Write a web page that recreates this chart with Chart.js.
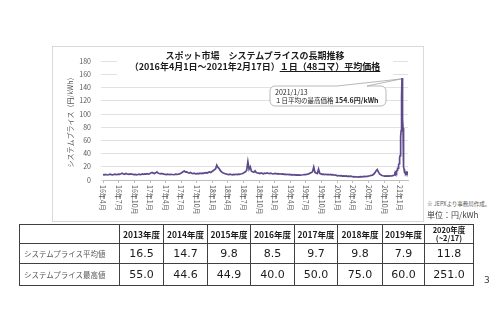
<!DOCTYPE html>
<html lang="ja">
<head>
<meta charset="utf-8">
<script src="https://cdn.jsdelivr.net/npm/chart.js@4.4.1/dist/chart.umd.min.js"></script>
<style>
  html, body { margin: 0; padding: 0; background: #fff; }
  body { width: 500px; height: 324px; position: relative; overflow: hidden; font-family: "Noto Sans CJK JP", sans-serif; }
  #frame { position: absolute; left: 52px; top: 46px; width: 370px; height: 174px; border: 1px solid #d9d9d9; }
  #frame canvas { display: block; }
  #title { position: absolute; left: 117px; top: 50px; width: 276px; height: 26px; background: #fff;
           text-align: center; font-weight: bold; font-size: 9px; line-height: 11px; color: #1a1a1a; }
  #title u { text-underline-offset: 1px; }
  #source { position: absolute; left: 427px; top: 200px; font-size: 5.5px; color: #595959; white-space: nowrap; }
  #unit { position: absolute; left: 427px; top: 209px; font-size: 8px; color: #404040; white-space: nowrap; }
  #page { position: absolute; left: 484px; top: 275px; font: 9px "DejaVu Sans", sans-serif; color: #404040; }
  #stats { position: absolute; left: 19px; top: 224px; border-collapse: collapse; table-layout: fixed; }
  #stats th, #stats td { border: 1px solid #404040; padding: 0; text-align: center; color: #1a1a1a; }
  #stats th { font-weight: bold; font-size: 8.5px; height: 18px; line-height: 9px; }
  #stats th.small { font-size: 7.5px; line-height: 8px; }
  #stats td { font: 11px "DejaVu Sans", sans-serif; height: 19px; }
  #stats td.name { text-align: left; padding-left: 4px; font: 7.5px "Noto Sans CJK JP", sans-serif; color: #595959; }
  #stats tr.last td { height: 21px; }
</style>
</head>
<body>
<div id="frame"><canvas id="chart" width="370" height="174"></canvas></div>
<div id="title">スポット市場　システムプライスの長期推移<br>（2016年4月1日～2021年2月17日）<u>１日（48コマ）平均価格</u></div>
<div id="source">※ JEPXより事務局作成。</div>
<div id="unit">単位：円/kWh</div>
<table id="stats"></table>
<div id="page">3</div>

<script>
// daily average system price, one value per week from 2016/4/1
const seriesStart = '2016-04-01';
const weeklyPrices = [
  8.2, 7.9, 8.5, 8.0, 7.6, 8.3, 8.8, 8.1, 7.7, 8.4, 8.9, 8.3, 8.6,
  9.0, 8.7, 9.4, 10.2, 9.1, 8.6, 9.8, 9.3, 8.9, 8.5, 9.2, 8.8, 8.4,
  8.1, 8.6, 7.9, 8.3, 8.8, 8.2, 8.5, 9.1, 8.7, 9.3, 8.9, 9.6, 9.0,
  9.5, 10.8, 11.6, 10.4, 9.8, 10.9, 12.3, 10.6, 9.9, 9.4, 10.1, 9.2, 8.8,
  8.6, 8.2, 8.9, 8.4, 8.1, 8.7, 8.3, 8.0, 8.5, 8.8, 8.4, 9.0, 9.3,
  10.1, 11.4, 12.8, 13.5, 11.9, 12.4, 11.0, 10.6, 11.3, 10.2, 9.8, 10.4, 9.6,
  9.4, 9.9, 9.3, 10.2, 9.7, 10.5, 10.1, 10.8, 11.2, 10.6, 11.5, 12.1, 11.4,
  12.8, 13.9, 15.6, 16.8, 22.4, 19.1, 17.3, 14.2, 12.3, 11.0, 10.2, 9.6, 9.1,
  8.6, 8.2, 8.8, 8.4, 7.9, 8.5, 8.1, 8.7, 8.3, 8.9, 8.6, 9.1, 9.4,
  10.2, 11.5, 12.4, 14.8, 27.6, 16.2, 19.8, 13.4, 12.6, 11.9, 13.8, 11.2, 10.6,
  10.4, 9.8, 10.6, 10.1, 9.5, 10.3, 9.9, 10.7, 10.2, 9.6, 10.4, 9.8, 9.3,
  9.6, 10.1, 9.2, 9.7, 8.9, 9.4, 8.8, 9.2, 8.5, 8.9, 8.3, 8.7, 8.1,
  8.4, 7.9, 8.2, 7.6, 8.0, 7.4, 7.8, 7.3, 7.7, 7.2, 7.6, 7.9, 8.3,
  8.1, 8.4, 8.9, 9.6, 10.4, 11.2, 12.4, 19.6, 11.8, 10.3, 9.8, 16.4, 10.1,
  9.2, 8.6, 8.9, 8.3, 8.7, 8.1, 8.5, 8.0, 8.4, 7.9, 8.2, 7.6, 7.3,
  6.9, 6.4, 6.8, 6.2, 6.6, 5.9, 6.3, 5.8, 6.1, 5.6, 5.9, 5.4, 5.7,
  5.3, 4.8, 5.1, 4.6, 4.9, 4.4, 4.8, 5.2, 4.7, 5.1, 5.4, 5.0, 5.6,
  5.6, 6.1, 6.5, 6.9, 7.4, 8.6, 10.8, 13.6, 15.9, 12.2, 9.3, 7.8, 6.9,
  6.4, 6.0, 6.3, 5.8, 6.2, 5.9, 6.4, 6.1, 6.7, 7.2
];

// winter 2020-21, every day from 12/1 to 2/17
const dailyStart = '2020-12-01';
const dailyPrices = [
  7.8, 8.4, 9.1, 8.6, 7.9, 8.8, 10.2, 11.4, 10.6, 11.8, 12.3, 10.9, 9.8, 13.1, 14.6,
  16.2, 15.1, 17.4, 18.9, 16.3, 17.8, 19.6, 21.2, 18.4, 20.1, 22.8, 24.6, 26.3, 24.9, 28.4, 31.2,
  33.5, 36.8, 41.2, 46.5, 52.3, 58.1, 66.4, 74.9, 82.6, 91.8, 108.3, 126.4, 154.6, 121.8, 98.7, 96.2, 104.5,
  92.4, 78.6, 62.3, 44.8, 31.5, 24.2, 19.8, 16.4, 14.1, 12.6, 11.8, 10.9, 11.4, 10.2,
  9.6, 10.8, 11.9, 10.4, 9.8, 11.2, 12.6, 13.4, 11.8, 10.9, 9.7, 10.3, 11.6, 12.8, 11.2, 10.5, 11.9
];

const tickLabels = [
  '16年4月', '16年7月', '16年10月', '17年1月', '17年4月', '17年7月', '17年10月',
  '18年1月', '18年4月', '18年7月', '18年10月', '19年1月', '19年4月', '19年7月',
  '19年10月', '20年1月', '20年4月', '20年7月', '20年10月', '21年1月'
];
const yTicks = [0, 20, 40, 60, 80, 100, 120, 140, 160, 180];

// yearly summary table
const fiscalYears = ['2013年度', '2014年度', '2015年度', '2016年度', '2017年度', '2018年度', '2019年度', '2020年度<br>(~2/17)'];
const avgPrices = [16.5, 14.7, 9.8, 8.5, 9.7, 9.8, 7.9, 11.8];
const maxPrices = [55.0, 44.6, 44.9, 40.0, 50.0, 75.0, 60.0, 251.0];

const DAY = 86400000;
const t0 = Date.parse(seriesStart);
const dayOf = t => Math.round((t - t0) / DAY);

const points = [];
weeklyPrices.forEach((v, i) => points.push({ x: i * 7, y: v }));
const d0 = dayOf(Date.parse(dailyStart));
dailyPrices.forEach((v, i) => points.push({ x: d0 + i, y: v }));
const lastDay = points[points.length - 1].x;

const tickDays = tickLabels.map(s => {
  const m = s.match(/(\d+)年(\d+)月/);
  return dayOf(Date.UTC(2000 + Number(m[1]), Number(m[2]) - 1, 1));
});

// highest day for the callout
const peakValue = Math.max(...dailyPrices);
const peakIdx = dailyPrices.indexOf(peakValue);
const peakDate = new Date(Date.parse(dailyStart) + peakIdx * DAY);
const peakDay = d0 + peakIdx;

const axisFont = '"Noto Sans CJK JP", sans-serif';

// month labels run top-to-bottom under the axis
const monthLabels = {
  id: 'monthLabels',
  afterDraw(chart) {
    const { ctx, scales: { x } } = chart;
    ctx.save();
    ctx.font = '7px ' + axisFont;
    ctx.fillStyle = '#595959';
    ctx.textAlign = 'left';
    ctx.textBaseline = 'middle';
    tickDays.forEach((d, i) => {
      ctx.save();
      ctx.translate(x.getPixelForValue(d), x.top + 5);
      ctx.rotate(Math.PI / 2);
      ctx.fillText(tickLabels[i], 0, 0);
      ctx.restore();
    });
    ctx.restore();
  }
};

function roundRect(ctx, x, y, w, h, r) {
  ctx.moveTo(x + r, y);
  ctx.lineTo(x + w - r, y);
  ctx.arcTo(x + w, y, x + w, y + r, r);
  ctx.lineTo(x + w, y + h - r);
  ctx.arcTo(x + w, y + h, x + w - r, y + h, r);
  ctx.lineTo(x + r, y + h);
  ctx.arcTo(x, y + h, x, y + h - r, r);
  ctx.lineTo(x, y + r);
  ctx.arcTo(x, y, x + r, y, r);
}

const peakCallout = {
  id: 'peakCallout',
  afterDraw(chart) {
    const { ctx, scales: { x, y } } = chart;
    const tipX = x.getPixelForValue(peakDay);
    const tipY = y.getPixelForValue(peakValue);
    const bx = 217, by = 39, bw = 116, bh = 20, r = 5;
    ctx.save();
    ctx.beginPath();
    ctx.moveTo(bx + r, by);
    ctx.lineTo(bx + 67, by);
    ctx.lineTo(tipX - 1, tipY + 1);
    ctx.lineTo(bx + 97, by);
    ctx.lineTo(bx + bw - r, by);
    ctx.arcTo(bx + bw, by, bx + bw, by + r, r);
    ctx.lineTo(bx + bw, by + bh - r);
    ctx.arcTo(bx + bw, by + bh, bx + bw - r, by + bh, r);
    ctx.lineTo(bx + r, by + bh);
    ctx.arcTo(bx, by + bh, bx, by + bh - r, r);
    ctx.lineTo(bx, by + r);
    ctx.arcTo(bx, by, bx + r, by, r);
    ctx.closePath();
    ctx.fillStyle = '#fff';
    ctx.fill();
    ctx.strokeStyle = '#a6a6a6';
    ctx.lineWidth = 0.8;
    ctx.stroke();

    ctx.fillStyle = '#262626';
    ctx.textBaseline = 'middle';
    ctx.textAlign = 'left';
    ctx.font = '7px ' + axisFont;
    const dateText = peakDate.getUTCFullYear() + '/' + (peakDate.getUTCMonth() + 1) + '/' + peakDate.getUTCDate();
    ctx.fillText(dateText, bx + 5, by + 6);
    const lead = '１日平均の最高価格 ';
    ctx.font = '6.5px ' + axisFont;
    ctx.fillText(lead, bx + 5, by + 14.5);
    const w = ctx.measureText(lead).width;
    ctx.font = 'bold 7px ' + axisFont;
    ctx.fillText(peakValue.toFixed(1) + '円/kWh', bx + 5 + w, by + 14.5);
    ctx.restore();
  }
};

new Chart(document.getElementById('chart'), {
  type: 'line',
  data: {
    datasets: [{
      data: points,
      borderColor: '#5d4a8b',
      borderWidth: 1.7,
      pointRadius: 0,
      tension: 0,
      fill: false
    }]
  },
  options: {
    responsive: false,
    animation: false,
    events: [],
    layout: { padding: { top: 14, right: 15, left: 0, bottom: 0 } },
    plugins: { legend: { display: false }, tooltip: { enabled: false } },
    scales: {
      x: {
        type: 'linear',
        min: 0,
        max: lastDay,
        afterBuildTicks: s => { s.ticks = tickDays.map(v => ({ value: v })); },
        afterFit: s => { s.height = 41; },
        ticks: { display: false },
        grid: { drawOnChartArea: false, drawTicks: true, tickLength: 3, color: '#bfbfbf' },
        border: { display: true, color: '#bfbfbf', width: 1 }
      },
      y: {
        min: 0,
        max: 180,
        afterBuildTicks: s => { s.ticks = yTicks.map(v => ({ value: v })); },
        afterFit: s => { s.width = 50; },
        ticks: { color: '#595959', font: { family: axisFont, size: 7 }, padding: 10 },
        grid: { color: '#d9d9d9', lineWidth: 0.8, tickLength: 2 },
        border: { display: false },
        title: {
          display: true,
          text: 'システムプライス（円/kWh）',
          color: '#595959',
          font: { family: axisFont, size: 7 },
          padding: { top: 13, bottom: 0 }
        }
      }
    }
  },
  plugins: [monthLabels, peakCallout]
});

// summary table
const table = document.getElementById('stats');
const colWidths = [100, 44, 44, 43, 44, 43, 45, 42, 49];
table.innerHTML =
  '<colgroup>' + colWidths.map(w => `<col style="width:${w}px">`).join('') + '</colgroup>' +
  '<tr><th></th>' + fiscalYears.map(s => `<th${s.includes('<br>') ? ' class="small"' : ''}>${s}</th>`).join('') + '</tr>' +
  '<tr><td class="name">システムプライス平均値</td>' + avgPrices.map(v => `<td>${v.toFixed(1)}</td>`).join('') + '</tr>' +
  '<tr class="last"><td class="name">システムプライス最高値</td>' + maxPrices.map(v => `<td>${v.toFixed(1)}</td>`).join('') + '</tr>';
</script>
</body>
</html>
